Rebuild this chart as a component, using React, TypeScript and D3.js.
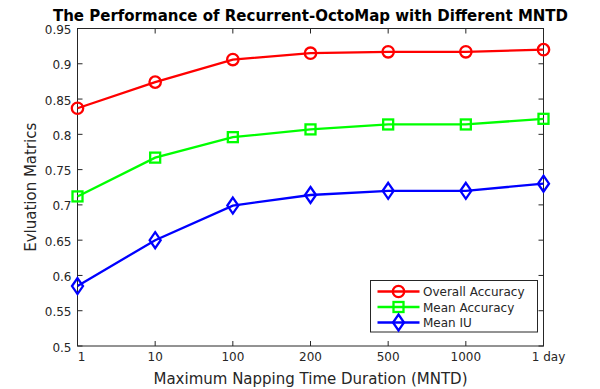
import React, { useEffect, useRef } from 'react';
import * as d3 from 'd3';

const svgWidth = 600;
const svgHeight = 389;
const margin = { left: 77.5, right: 56.5, top: 28.5, bottom: 43 };
const width = svgWidth - margin.left - margin.right;
const height = svgHeight - margin.top - margin.bottom;

const categories = ['1', '10', '100', '200', '500', '1000', '1 day'];
const overallAccuracy = [0.837, 0.874, 0.906, 0.915, 0.917, 0.917, 0.920];
const meanAccuracy = [0.712, 0.767, 0.796, 0.807, 0.814, 0.814, 0.822];
const meanIU = [0.585, 0.650, 0.699, 0.714, 0.720, 0.720, 0.730];
const yTicks = [0.5, 0.55, 0.6, 0.65, 0.7, 0.75, 0.8, 0.85, 0.9, 0.95];

const series = [
    { name: 'Overall Accuracy', values: overallAccuracy, color: '#ff0000', marker: 'circle' },
    { name: 'Mean Accuracy', values: meanAccuracy, color: '#00ff00', marker: 'square' },
    { name: 'Mean IU', values: meanIU, color: '#0000ff', marker: 'diamond' },
];

const FONT = 'DejaVu Sans, sans-serif';
const TXT = '#262626';
const LW = 2.3;

const translate = (x: number, y: number) => 'translate(' + x + ',' + y + ')';

const drawMarker = (g: any, type: string, x: number, y: number, color: string) => {
    if (type === 'circle') {
        g.append('circle').attr('cx', x).attr('cy', y).attr('r', 5.7)
            .attr('fill', 'none').attr('stroke', color).attr('stroke-width', LW);
    } else if (type === 'square') {
        g.append('rect').attr('x', x - 5).attr('y', y - 5).attr('width', 10).attr('height', 10)
            .attr('fill', 'none').attr('stroke', color).attr('stroke-width', LW);
    } else {
        g.append('path')
            .attr('d', `M${x},${y - 8}L${x + 5.5},${y}L${x},${y + 8}L${x - 5.5},${y}Z`)
            .attr('fill', 'none').attr('stroke', color).attr('stroke-width', LW);
    }
};

const Chart = () => {
    const ref = useRef<SVGSVGElement>(null);

    useEffect(() => {
        const svg = d3.select(ref.current);
        svg.selectAll('*').remove();

        const x = d3.scalePoint().domain(categories).range([0, width]);
        const y = d3.scaleLinear().domain([0.5, 0.95]).range([height, 0]);

        svg.append('rect').attr('width', svgWidth).attr('height', svgHeight).attr('fill', '#fff');

        const chart = svg.append('g').attr('transform', translate(margin.left, margin.top));

        // ticks inside the box, on all four sides
        const tickLen = 5;
        categories.forEach(c => {
            const px = x(c)!;
            chart.append('line').attr('x1', px).attr('x2', px).attr('y1', height).attr('y2', height - tickLen)
                .attr('stroke', TXT).attr('stroke-width', 1);
            chart.append('line').attr('x1', px).attr('x2', px).attr('y1', 0).attr('y2', tickLen)
                .attr('stroke', TXT).attr('stroke-width', 1);
            chart.append('text').attr('x', c === '1' ? px + 4 : c === '1 day' ? px + 5 : px)
                .attr('y', height + 14.5)
                .attr('text-anchor', 'middle').attr('font-family', FONT).attr('font-size', 12)
                .attr('fill', TXT).text(c);
        });
        yTicks.forEach(v => {
            const py = y(v);
            chart.append('line').attr('x1', 0).attr('x2', tickLen).attr('y1', py).attr('y2', py)
                .attr('stroke', TXT).attr('stroke-width', 1);
            chart.append('line').attr('x1', width).attr('x2', width - tickLen).attr('y1', py).attr('y2', py)
                .attr('stroke', TXT).attr('stroke-width', 1);
            chart.append('text').attr('x', -6).attr('y', py + 5.5)
                .attr('text-anchor', 'end').attr('font-family', FONT).attr('font-size', 12)
                .attr('fill', TXT).text(String(v));
        });

        chart.append('rect').attr('width', width).attr('height', height)
            .attr('fill', 'none').attr('stroke', TXT).attr('stroke-width', 1);

        const line = d3.line<number>()
            .x((d, i) => x(categories[i])!)
            .y(d => y(d));

        series.forEach(s => {
            chart.append('path').datum(s.values).attr('d', line)
                .attr('fill', 'none').attr('stroke', s.color).attr('stroke-width', LW);
            s.values.forEach((v, i) => drawMarker(chart, s.marker, x(categories[i])!, y(v), s.color));
        });

        // legend
        const lg = svg.append('g').attr('transform', translate(370.5, 280.5));
        lg.append('rect').attr('width', 167).attr('height', 51.5)
            .attr('fill', '#fff').attr('stroke', TXT).attr('stroke-width', 1);
        series.forEach((s, i) => {
            const ly = 11 + i * 15.5;
            lg.append('line').attr('x1', 7).attr('x2', 49).attr('y1', ly).attr('y2', ly)
                .attr('stroke', s.color).attr('stroke-width', LW);
            drawMarker(lg, s.marker, 28, ly, s.color);
            lg.append('text').attr('x', 52.5).attr('y', ly + 4.5).attr('font-family', FONT)
                .attr('font-size', 12).attr('fill', TXT).text(s.name);
        });

        // title and axis labels
        svg.append('text').attr('x', margin.left + width / 2).attr('y', 20.5)
            .attr('text-anchor', 'middle').attr('font-family', FONT).attr('font-size', 15)
            .attr('font-weight', 'bold').attr('fill', '#000')
            .text('The Performance of Recurrent-OctoMap with Different MNTD');
        svg.append('text').attr('x', margin.left + width / 2).attr('y', 384)
            .attr('text-anchor', 'middle').attr('font-family', FONT).attr('font-size', 15)
            .attr('fill', TXT).text('Maximum Napping Time Duration (MNTD)');
        svg.append('text').attr('transform', translate(36, margin.top + height / 2) + ' rotate(-90)')
            .attr('text-anchor', 'middle').attr('font-family', FONT).attr('font-size', 15)
            .attr('fill', TXT).text('Evluation Matrics');
    }, []);

    return <svg ref={ref} width={svgWidth} height={svgHeight} style={{ display: 'block' }} />;
};

export default function App() {
    return (
        <div style={{ position: 'absolute', left: 0, top: 0 }}>
            <Chart />
        </div>
    );
}
